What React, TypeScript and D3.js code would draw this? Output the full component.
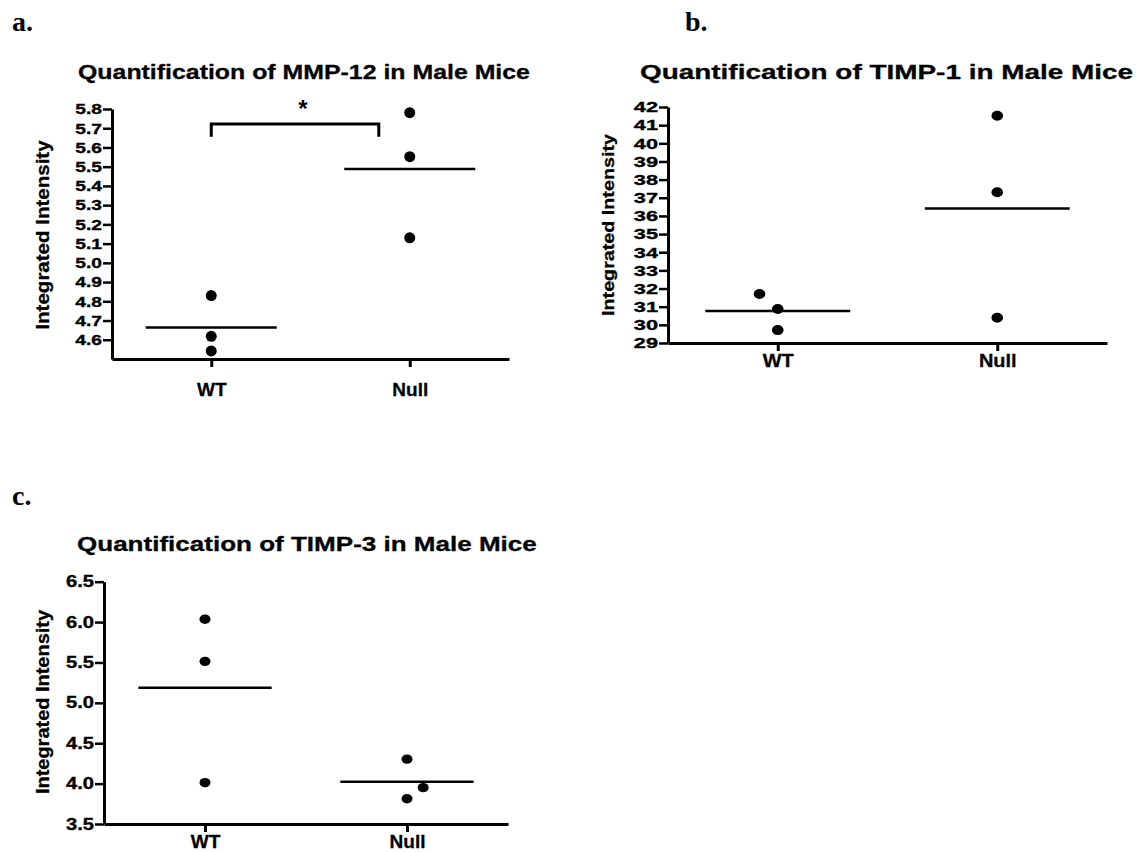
import React, { useEffect, useRef } from "react";
import * as d3 from "d3";

// groups on the x axis
const groups = ["WT", "Null"];

// a. MMP-12
const mmp12WT = [4.83, 4.618, 4.542];
const mmp12Null = [5.781, 5.552, 5.13];
const mmp12Ticks = [4.6, 4.7, 4.8, 4.9, 5.0, 5.1, 5.2, 5.3, 5.4, 5.5, 5.6, 5.7, 5.8];
const mmp12Domain: [number, number] = [4.5, 5.8];
const mmp12Sig = { top: 5.722, tip: 5.656, label: "*" };

// b. TIMP-1
const timp1WT = [31.7, 30.87, 29.71];
const timp1Null = [41.52, 37.3, 30.39];
const timp1Ticks = [29, 30, 31, 32, 33, 34, 35, 36, 37, 38, 39, 40, 41, 42];
const timp1Domain: [number, number] = [29, 42];

// c. TIMP-3
const timp3WT = [6.036, 5.514, 4.012];
const timp3Null = [4.303, 3.95, 3.813];
const timp3Ticks = [3.5, 4.0, 4.5, 5.0, 5.5, 6.0, 6.5];
const timp3Domain: [number, number] = [3.5, 6.5];

const SANS = "'Liberation Sans', Arial, sans-serif";
const SERIF = "'Liberation Serif', 'Times New Roman', serif";

type Layout = {
  left: number;
  right: number;
  top: number;
  bottom: number;
  titleX: number;
  titleY: number;
  titleSx: number;
  letterX: number;
  letterY: number;
  yLabelX: number;
  yLabelY: number;
  yLabelSize: number;
  yLabelSx: number;
  tickFont: number;
  tickSx: number;
  catFont: number;
  catSx: number;
  catPad: number;
  rx: number;
  ry: number;
  jitterWT: number[];
  jitterNull: number[];
};

type PanelProps = {
  letter: string;
  title: string;
  wt: number[];
  nul: number[];
  ticks: number[];
  domain: [number, number];
  fmt: string;
  layout: Layout;
  sig?: { top: number; tip: number; label: string };
};

const Panel = ({ letter, title, wt, nul, ticks, domain, fmt, layout: L, sig }: PanelProps) => {
  const yRef = useRef<SVGGElement>(null);
  const xRef = useRef<SVGGElement>(null);

  const y = d3.scaleLinear().domain(domain).range([L.bottom, L.top]);
  const x = d3.scalePoint().domain(groups).range([L.left, L.right]).padding(0.5);
  const step = x.step();

  useEffect(() => {
    const gy = d3.select(yRef.current);
    gy.call(
      d3
        .axisLeft(y)
        .tickValues(ticks)
        .tickSize(9)
        .tickSizeOuter(0)
        .tickFormat(d3.format(fmt))
    );
    gy.attr("font-family", SANS).attr("font-size", L.tickFont).attr("font-weight", "bold");
    gy.select(".domain").attr("stroke-width", 3).attr("stroke", "#000");
    gy.selectAll(".tick line").attr("stroke-width", 2.5).attr("stroke", "#000");
    gy.selectAll(".tick text")
      .attr("x", null)
      .attr("fill", "#000")
      .attr("stroke", "#000")
      .attr("stroke-width", 0.35)
      .attr("transform", `translate(-10,0) scale(${L.tickSx},1)`);

    const gx = d3.select(xRef.current);
    gx.call(d3.axisBottom(x).tickSize(8).tickSizeOuter(0).tickPadding(L.catPad));
    gx.attr("font-family", SANS).attr("font-size", L.catFont).attr("font-weight", "bold");
    gx.select(".domain").attr("stroke-width", 3).attr("stroke", "#000");
    gx.selectAll(".tick line").attr("stroke-width", 3).attr("stroke", "#000");
    gx.selectAll(".tick text")
      .attr("fill", "#000")
      .attr("stroke", "#000")
      .attr("stroke-width", 0.3)
      .attr("transform", `scale(${L.catSx},1)`);
  }, []);

  const series = [
    { key: "WT", values: wt, jitter: L.jitterWT },
    { key: "Null", values: nul, jitter: L.jitterNull },
  ];

  return (
    <g>
      <text x={L.letterX} y={L.letterY} fontFamily={SERIF} fontWeight="bold" fontSize={28}>
        {letter}
      </text>
      <text
        transform={`translate(${L.titleX},${L.titleY}) scale(${L.titleSx},1)`}
        fontFamily={SANS}
        fontWeight="bold"
        fontSize={21}
        stroke="#000"
        strokeWidth={0.3}
      >
        {title}
      </text>
      <text
        transform={`translate(${L.yLabelX},${L.yLabelY}) rotate(-90) scale(${L.yLabelSx},1)`}
        textAnchor="middle"
        fontFamily={SANS}
        fontWeight="bold"
        fontSize={L.yLabelSize}
        stroke="#000"
        strokeWidth={0.3}
      >
        Integrated Intensity
      </text>

      {series.map((s) => {
        const cx = x(s.key) as number;
        const m = d3.mean(s.values) as number;
        return (
          <g key={s.key}>
            <line
              x1={cx - step * 0.33}
              x2={cx + step * 0.33}
              y1={y(m)}
              y2={y(m)}
              stroke="#000"
              strokeWidth={2.5}
            />
            {s.values.map((v, i) => (
              <ellipse key={i} cx={cx + s.jitter[i] * step} cy={y(v)} rx={L.rx} ry={L.ry} fill="#000" />
            ))}
          </g>
        );
      })}

      {sig && (
        <g>
          <path
            d={`M${x("WT")},${y(sig.tip)}V${y(sig.top)}H${(x("Null") as number) - step * 0.156}V${y(sig.tip)}`}
            fill="none"
            stroke="#000"
            strokeWidth={3}
          />
          <text
            x={((x("WT") as number) + (x("Null") as number) - step * 0.156) / 2 + 8}
            y={y(sig.top) - 7}
            textAnchor="middle"
            fontFamily={SANS}
            fontWeight="bold"
            fontSize={24}
          >
            {sig.label}
          </text>
        </g>
      )}

      <g ref={yRef} transform={`translate(${L.left},0)`} />
      <g ref={xRef} transform={`translate(0,${L.bottom})`} />
    </g>
  );
};

const layoutA: Layout = {
  left: 112, right: 509, top: 109, bottom: 359,
  titleX: 78, titleY: 79, titleSx: 1.185,
  letterX: 12, letterY: 31,
  yLabelX: 49, yLabelY: 235, yLabelSize: 18, yLabelSx: 1.14,
  tickFont: 15, tickSx: 1.28,
  catFont: 19, catSx: 1.0, catPad: 16,
  rx: 5.5, ry: 5.5,
  jitterWT: [0, 0, 0], jitterNull: [0, 0, 0],
};

const layoutB: Layout = {
  left: 668, right: 1107, top: 107, bottom: 343,
  titleX: 640, titleY: 79, titleSx: 1.33,
  letterX: 685, letterY: 31,
  yLabelX: 614, yLabelY: 225, yLabelSize: 17, yLabelSx: 1.16,
  tickFont: 15, tickSx: 1.45,
  catFont: 18.5, catSx: 1.08, catPad: 3,
  rx: 5.8, ry: 5,
  jitterWT: [-0.083, 0, 0], jitterNull: [0, 0, 0],
};

const layoutC: Layout = {
  left: 104, right: 508, top: 581.7, bottom: 824,
  titleX: 77, titleY: 551, titleSx: 1.24,
  letterX: 12, letterY: 505,
  yLabelX: 49, yLabelY: 702, yLabelSize: 18, yLabelSx: 1.11,
  tickFont: 16, tickSx: 1.26,
  catFont: 19, catSx: 1.0, catPad: 3,
  rx: 5.5, ry: 4.7,
  jitterWT: [0, 0, 0], jitterNull: [0, 0.08, 0],
};

export default function App() {
  return (
    <svg
      width={1138}
      height={852}
      style={{ position: "absolute", left: 0, top: 0, background: "#fff" }}
    >
      <Panel
        letter="a."
        title="Quantification of MMP-12 in Male Mice"
        wt={mmp12WT}
        nul={mmp12Null}
        ticks={mmp12Ticks}
        domain={mmp12Domain}
        fmt=".1f"
        layout={layoutA}
        sig={mmp12Sig}
      />
      <Panel
        letter="b."
        title="Quantification of TIMP-1 in Male Mice"
        wt={timp1WT}
        nul={timp1Null}
        ticks={timp1Ticks}
        domain={timp1Domain}
        fmt="d"
        layout={layoutB}
      />
      <Panel
        letter="c."
        title="Quantification of TIMP-3 in Male Mice"
        wt={timp3WT}
        nul={timp3Null}
        ticks={timp3Ticks}
        domain={timp3Domain}
        fmt=".1f"
        layout={layoutC}
      />
    </svg>
  );
}
